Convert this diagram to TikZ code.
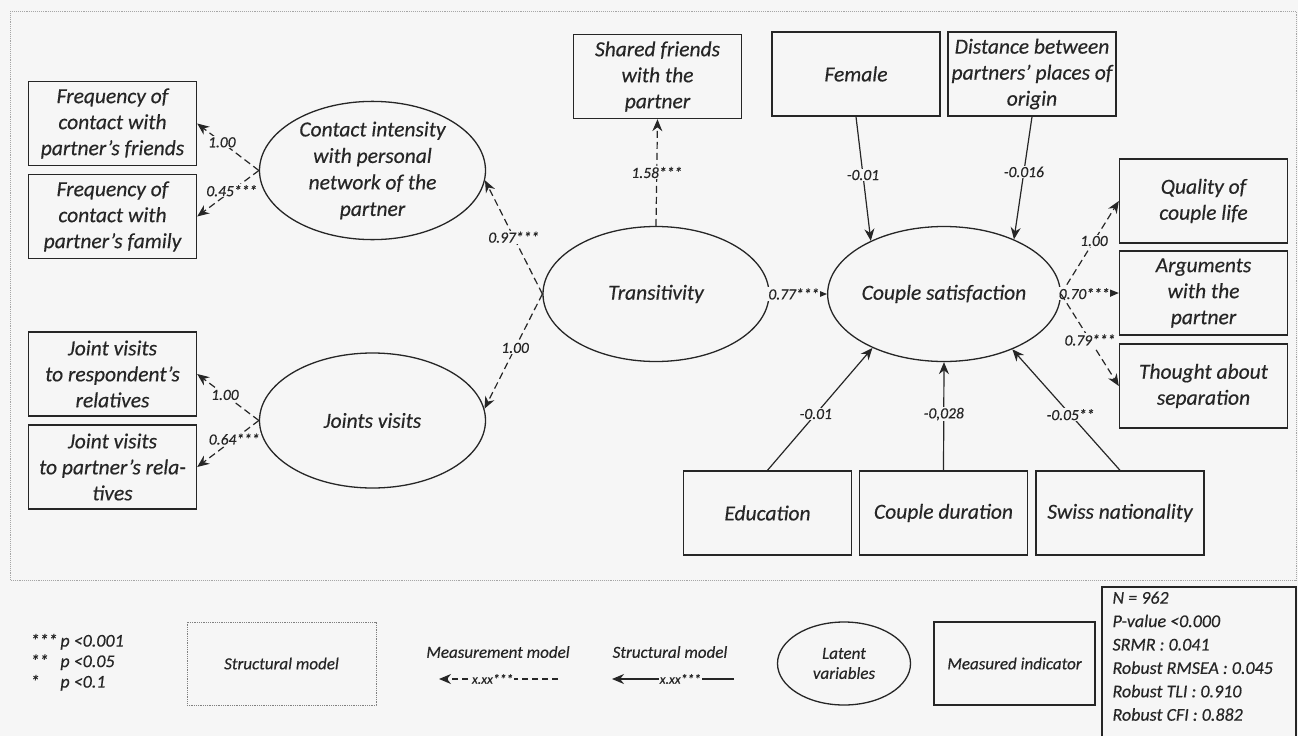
\documentclass[tikz,border=0pt]{standalone}
\usepackage{fontspec}
\setmainfont{Carlito}[ItalicFeatures={FakeBold=0.35}]
\usepackage{tikz}
\usetikzlibrary{shapes.geometric,arrows.meta}
\definecolor{bgpaper}{RGB}{246,246,246}
\definecolor{ink}{RGB}{38,38,38}

\begin{document}
\begin{tikzpicture}[x=1pt,y=1pt,yscale=-1,
  obs/.style={draw=ink,line width=1.4pt,minimum width=168pt,minimum height=84pt,inner sep=1pt,align=center,text=ink,font=\fontsize{21.5}{26}\selectfont\itshape},
  lat/.style={ellipse,draw=ink,line width=1.3pt,minimum width=226pt,minimum height=135pt,inner sep=0pt,align=center,text=ink,font=\fontsize{21.5}{26.5}\selectfont\itshape},
  coef/.style={fill=bgpaper,inner sep=1pt,text=ink,font=\fontsize{15.5}{17}\selectfont\itshape},
  meas/.style={draw=ink,line width=1.2pt,dash pattern=on 7pt off 4pt,-{Stealth[length=12pt,width=10pt]}},
  struc/.style={draw=ink,line width=1.2pt,-{Stealth[length=12pt,width=10pt]}},
  leg/.style={text=ink,font=\fontsize{17}{20}\selectfont\itshape}]
\useasboundingbox (0,0) rectangle (1298,736);
\fill[bgpaper] (0,0) rectangle (1298,736);
\draw[gray!70,densely dotted,line width=0.9pt] (10,11) rectangle (1296,580);

\node[obs] (frf) at (112.5,123.5) {Frequency of\\contact with\\partner's friends};
\node[obs] (frm) at (112.5,216.5) {Frequency of\\contact with\\partner's family};
\node[obs] (jvr) at (112.5,374) {Joint visits\\to respondent’s\\relatives};
\node[obs] (jvp) at (112.5,467) {Joint visits\\to partner’s rela-\\tives};
\node[lat] (cint) at (372.5,170.5) {Contact intensity\\with personal\\network of the\\partner};
\node[lat] (jvis) at (372.5,420.5) {Joints visits};
\node[lat] (trans) at (656,294) {Transitivity};
\node[lat] (csat) at (944,294) {Couple satisfaction};
\node[obs] (shf) at (657.5,76.5) {Shared friends\\with the\\partner};
\node[obs] (fem) at (856,74) {Female};
\node[obs] (dist) at (1032,74) {Distance between\\partners’ places of\\origin};
\node[obs] (qual) at (1203.5,201) {Quality of\\couple life};
\node[obs] (argu) at (1203.5,293) {Arguments\\with the\\partner};
\node[obs] (thgt) at (1203.5,386) {Thought about\\separation};
\node[obs] (edu) at (767.5,513) {Education};
\node[obs] (cdur) at (943.5,513) {Couple duration};
\node[obs] (swiss) at (1120,513) {Swiss nationality};

\draw[meas] (cint.west) -- node[coef,pos=0.6] {1.00} (frf.east);
\draw[meas] (cint.west) -- node[coef,pos=0.44] {0.45***} (frm.east);
\draw[meas] (jvis.west) -- node[coef,pos=0.55] {1.00} (jvr.east);
\draw[meas] (jvis.west) -- node[coef,pos=0.4] {0.64***} (jvp.east);
\draw[meas] (trans.west) -- node[coef,pos=0.5] {0.97***} (cint.-5);
\draw[meas] (trans.west) -- node[coef,pos=0.47] {1.00} (jvis.6);
\draw[meas] (trans.north) -- node[coef,pos=0.5] {1.58***} (shf.south);
\draw[struc] (trans.east) -- node[coef,pos=0.42] {0.77***} (csat.west);
\draw[struc] (fem.south) -- node[coef,pos=0.47] {-0.01} (csat.144);
\draw[struc] (dist.south) -- node[coef,pos=0.45] {-0.016} (csat.38);
\draw[struc] (edu.north) -- node[coef,pos=0.46] {-0.01} (csat.217);
\draw[struc] (cdur.north) -- node[coef,pos=0.52] {-0,028} (csat.south);
\draw[struc] (swiss.north) -- node[coef,pos=0.46] {-0.05**} (csat.-39);
\draw[meas] (csat.east) -- node[coef,pos=0.57] {1.00} (qual.west);
\draw[meas] (csat.east) -- node[coef,pos=0.4] {0.70***} (argu.west);
\draw[meas] (csat.east) -- node[coef,pos=0.5] {0.79***} (thgt.west);

\node[leg,anchor=west] (pval) at (27,663) {\fontsize{18}{20.5}\selectfont\begin{tabular}{@{}l@{\,}l@{}}***&p <0.001\\{}**&p <0.05\\{}*&p <0.1\end{tabular}};
\node[leg,draw=gray,densely dotted,line width=0.8pt,minimum width=189pt,minimum height=83pt] (smbox) at (281.5,663.5) {Structural model};
\node[leg] (mmtxt) at (498,652) {Measurement model};
\coordinate (mma) at (558,679);
\coordinate (mmb) at (439,679);
\draw[meas,dash pattern=on 6pt off 4pt] (mma) -- node[coef,pos=0.55,font=\fontsize{13.5}{15}\selectfont\itshape] {x.xx***} (mmb);
\node[leg] (smtxt) at (670,652) {Structural model};
\coordinate (sma) at (734,679);
\coordinate (smb) at (612,679);
\draw[struc] (sma) -- node[coef,pos=0.44,font=\fontsize{13.5}{15}\selectfont\itshape] {x.xx***} (smb);
\node[lat,leg,minimum width=133pt,minimum height=83pt] (latleg) at (844,663.5) {Latent\\variables};
\node[obs,leg,minimum width=161pt,minimum height=83pt] (obsleg) at (1014.5,663.5) {Measured indicator};
\draw[ink,line width=1.4pt] (1102,736) -- (1102,587) -- (1296,587) -- (1296,736);
\node[leg,anchor=north west,align=left,font=\fontsize{18}{23.4}\selectfont\itshape] (fit) at (1109,588) {N = 962\\P-value <0.000\\SRMR : 0.041\\Robust RMSEA : 0.045\\Robust TLI : 0.910\\Robust CFI : 0.882};
\end{tikzpicture}
\end{document}
